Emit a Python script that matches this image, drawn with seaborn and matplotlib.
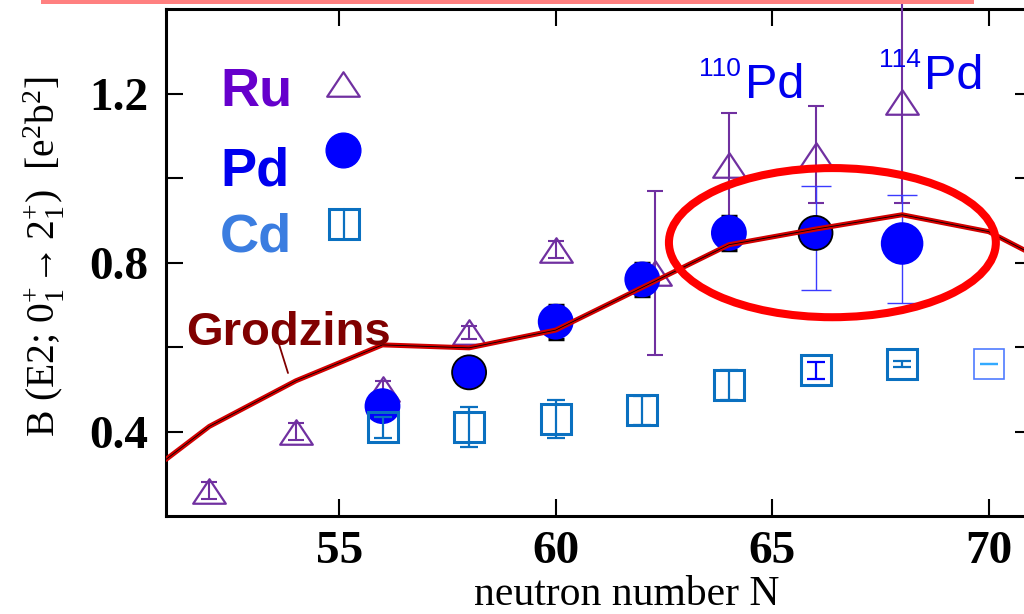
import numpy as np
import pandas as pd
import matplotlib
matplotlib.use("Agg")
import matplotlib.pyplot as plt
import seaborn as sns
from matplotlib.patches import Ellipse, Rectangle
from matplotlib.lines import Line2D
from matplotlib.path import Path
from matplotlib.ticker import FixedLocator, FixedFormatter

# ---- data: B(E2; 0+ -> 2+) in e^2 b^2 versus neutron number ----
grodzins_n = [51, 52, 54, 56, 58, 60, 64, 66, 68, 70, 71]
grodzins_b = [0.334, 0.412, 0.52, 0.605, 0.598, 0.64, 0.842, 0.879, 0.913, 0.873, 0.82]

ru_n = [52, 54, 56, 58, 60, 62.3, 64, 66, 68]
ru_b = [0.26, 0.40, 0.50, 0.635, 0.83, 0.775, 1.03, 1.055, 1.18]
ru_err = [0.02, 0.02, 0.02, 0.015, 0.02, 0.195, 0.125, 0.115, 0.24]

pd_n = [56, 58, 60, 62, 64, 66, 68]
pd_b = [0.46, 0.54, 0.66, 0.76, 0.87, 0.87, 0.845]
pd_err_lo = [0.02, 0.0, 0.04, 0.04, 0.04, 0.135, 0.14]
pd_err_hi = [0.02, 0.0, 0.04, 0.04, 0.04, 0.11, 0.115]

cd_n = [56, 58, 60, 62, 64, 66, 68, 70]
cd_b = [0.41, 0.41, 0.43, 0.45, 0.51, 0.545, 0.56, 0.56]
cd_err = [0.025, 0.047, 0.045, 0.035, 0.035, 0.02, 0.008, 0.0]

x_ticks = [55, 60, 65, 70]
y_ticks = [0.4, 0.6, 0.8, 1.0, 1.2]
y_tick_labels = ["0.4", "", "0.8", "", "1.2"]

series_labels = ["Ru", "Pd", "Cd"]
isotope_labels = [("110", "Pd"), ("114", "Pd")]

# ---- style ----
PURPLE = "#7030A0"
BLUE = "#0000FF"
CD_BLUE = "#0A70C0"
W, H = 1024, 614

sns.set_theme(style="ticks")
plt.rcParams["font.family"] = ["Liberation Serif", "DejaVu Serif"]
plt.rcParams["mathtext.fontset"] = "custom"
plt.rcParams["mathtext.rm"] = "Liberation Serif"
plt.rcParams["mathtext.it"] = "Liberation Serif:italic"
plt.rcParams["mathtext.bf"] = "Liberation Serif:bold"

fig = plt.figure(figsize=(W / 100, H / 100), dpi=100)
fig.patch.set_facecolor("white")


def px(x, y):
    """Pixel position (from top-left) to figure fraction."""
    return x / W, 1 - y / H


ax = fig.add_axes([166 / W, 1 - 516 / H, (1032 - 166) / W, (516 - 9) / H])
ax.set_facecolor("white")
ax.set_xlim(51, 71)
ax.set_ylim(0.2, 1.4)

# Ru: open triangles with error bars
tri = Path([(-1, -0.75), (1, -0.75), (0, 0.75), (-1, -0.75)],
           [Path.MOVETO, Path.LINETO, Path.LINETO, Path.CLOSEPOLY])
ax.errorbar(ru_n, ru_b, yerr=ru_err, fmt="none", ecolor=PURPLE,
            elinewidth=1.5, capsize=6, capthick=1.5, zorder=3, clip_on=False)
ax.plot(ru_n, ru_b, ls="none", marker=tri, ms=23.5, mfc="none",
        mec=PURPLE, mew=1.6, zorder=3)

# Pd: filled circles; short black caps for the precise points, thin blue for the others
pd_lo = np.array(pd_err_lo)
pd_hi = np.array(pd_err_hi)
pd_x = np.array(pd_n)
pd_y = np.array(pd_b)
thin = pd_x >= 66
ax.errorbar(pd_x[~thin], pd_y[~thin], yerr=[pd_lo[~thin], pd_hi[~thin]], fmt="none",
            ecolor="black", elinewidth=2, capsize=6, capthick=2.5, zorder=4)
ax.errorbar(pd_x[thin], pd_y[thin], yerr=[pd_lo[thin], pd_hi[thin]], fmt="none",
            ecolor="#3A3AFF", elinewidth=1, capsize=11, capthick=1, zorder=4)
pd_df = pd.DataFrame({"N": pd_n, "B": pd_b})
pd_edges = ["black" if n in (58, 66) else BLUE for n in pd_n]
pd_sizes = [860 if n == 68 else 600 for n in pd_n]
sns.scatterplot(data=pd_df, x="N", y="B", ax=ax, color=BLUE, s=pd_sizes,
                edgecolor=pd_edges, linewidth=1.3, zorder=4, legend=False)

# Cd: open squares with error bars
cd_edge = [CD_BLUE] * 7 + ["#4F7BFF"]
cd_ecol = [CD_BLUE] * 5 + [BLUE, CD_BLUE, "#33AAFF"]
cd_mew = [2.2] * 7 + [1.2]
for n, b, e, ec, bc, mw in zip(cd_n, cd_b, cd_err, cd_edge, cd_ecol, cd_mew):
    ax.errorbar([n], [b], yerr=[e], fmt="none", ecolor=bc, elinewidth=1.6,
                capsize=6.5, capthick=1.6, zorder=5)
    ax.plot([n], [b], ls="none", marker="s", ms=22, mfc="none", mec=ec,
            mew=mw, zorder=5)

# Grodzins systematics: red band with a thin black core
gz = pd.DataFrame({"N": grodzins_n, "B": grodzins_b})
sns.lineplot(data=gz, x="N", y="B", ax=ax, color="#D20000", lw=3.6,
             sort=False, estimator=None, zorder=6)
sns.lineplot(data=gz, x="N", y="B", ax=ax, color="black", lw=0.6,
             sort=False, estimator=None, zorder=7)

# highlight of the mid-shell Pd region
ax.add_patch(Ellipse((66.39, 0.847), 7.55, 0.353, fill=False,
                     ec="#FF0000", lw=5.8, zorder=8))

# ---- axes styling ----
for s in ax.spines.values():
    s.set_visible(True)
    s.set_linewidth(2.2)
    s.set_color("black")
ax.xaxis.set_major_locator(FixedLocator(x_ticks))
ax.yaxis.set_major_locator(FixedLocator(y_ticks))
ax.yaxis.set_major_formatter(FixedFormatter(y_tick_labels))
ax.tick_params(axis="both", which="major", direction="in", length=12, width=1.5,
               top=True, right=True, labelsize=34, colors="black")
ax.tick_params(axis="x", pad=11)
ax.tick_params(axis="y", pad=13)
for lab in ax.get_xticklabels() + ax.get_yticklabels():
    lab.set_fontweight("bold")
ax.set_xlabel("")
ax.set_ylabel("")
ax.grid(False)

# axis titles
fig.text(*px(627, 605), "neutron number N", fontsize=30, ha="center",
         va="baseline", color="black")
fig.text(*px(44, 257),
         r"B (E2; $0_1^{+}\!\rightarrow 2_1^{+}$)  [e$^{2}$b$^{2}$]",
         fontsize=28.5, rotation=90, ha="center", va="center", color="black")

# series key
SANS = ["Liberation Sans", "DejaVu Sans"]
key_colors = ["#6600CC", "#0000EE", "#3B7DE0"]
key_base = [106, 185, 252]
for lab, col, yb in zip(series_labels, key_colors, key_base):
    fig.text(*px(220, yb), lab, fontsize=39, fontweight="bold", family=SANS,
             color=col, va="baseline", ha="left")
fig.add_artist(Line2D([343 / W], [1 - 84 / H], marker=tri, ms=23.5, mfc="none",
                      mec=PURPLE, mew=1.6, ls="none", transform=fig.transFigure))
fig.add_artist(Line2D([343 / W], [1 - 150 / H], marker="o", ms=25, mfc=BLUE,
                      mec=BLUE, ls="none", transform=fig.transFigure))
fig.add_artist(Line2D([344 / W], [1 - 224 / H], marker="s", ms=22, mfc="none",
                      mec=CD_BLUE, mew=2.2, ls="none", transform=fig.transFigure))
fig.add_artist(Line2D([344 / W, 344 / W], [1 - 209 / H, 1 - 239 / H],
                      color=CD_BLUE, lw=1.6, transform=fig.transFigure))

# Grodzins label with leader
fig.text(*px(186, 345), "Grodzins", fontsize=34, fontweight="bold", family=SANS,
         color="#800000", va="baseline", ha="left")
fig.add_artist(Line2D([278 / W, 288 / W], [1 - 341 / H, 1 - 373 / H],
                      color="#800000", lw=1.3, transform=fig.transFigure))

# isotope labels
iso_pos = [(699, 76, 745, 98), (879, 67, 924, 89)]
for (mass, sym), (xs, ys, xp, yp) in zip(isotope_labels, iso_pos):
    fig.text(*px(xs, ys), mass, fontsize=19, family=SANS, color="#0000EE",
             va="baseline", ha="left")
    fig.text(*px(xp, yp), sym, fontsize=35, family=SANS, color="#0000EE",
             va="baseline", ha="left")

# slide frame edge along the top
fig.add_artist(Rectangle(px(41, 4), (974 - 41) / W, 4 / H, transform=fig.transFigure,
                         facecolor="#FF8080", edgecolor="none"))

fig.savefig("out.png", dpi=100, facecolor="white")
